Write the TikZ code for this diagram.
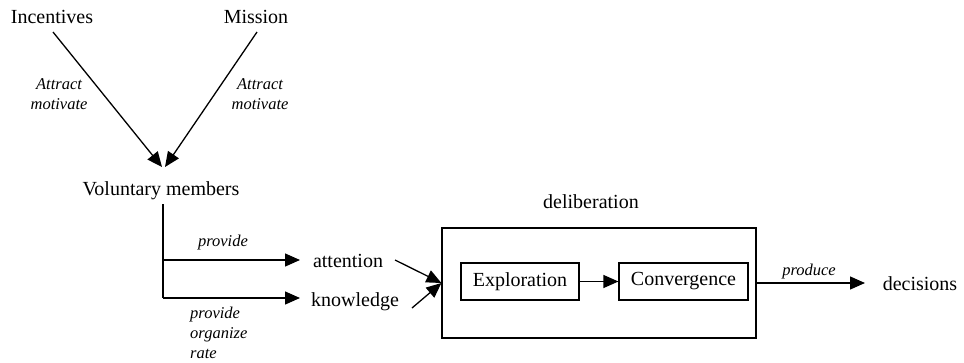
\documentclass[tikz,border=0pt]{standalone}
\usepackage{fontspec}
\setmainfont{Liberation Serif}
\usetikzlibrary{arrows.meta}
\begin{document}
\begin{tikzpicture}[x=1pt,y=-1pt,
  lbl/.style={font=\fontsize{20}{22}\selectfont, inner sep=0pt, anchor=base},
  note/.style={font=\fontsize{16.5}{20}\selectfont\itshape, inner sep=0pt},
  box/.style={draw, line width=1.2pt},
  conn/.style={line width=1.3pt, -{Triangle[length=15pt,width=13pt]}},
  wire/.style={line width=1.3pt}]
\useasboundingbox (0,0) rectangle (964,362);

% sources
\node[lbl] (inc) at (52,23) {Incentives};
\node[lbl] (mis) at (256,23) {Mission};
\node[lbl] (vol) at (161,195) {Voluntary members};

% V-shaped arrows into the members
\coordinate (incS) at (53,32);
\coordinate (misS) at (257,32);
\coordinate (volL) at (162,167);
\coordinate (volR) at (165,167);
\draw[conn] (incS) -- (volL);
\draw[conn] (misS) -- (volR);
\node[note, align=center] (am1) at (59,94) {Attract\\motivate};
\node[note, align=center] (am2) at (260,94) {Attract\\motivate};

% contributions
\node[lbl] (att) at (348,267) {attention};
\node[lbl] (kno) at (355,306) {knowledge};
\coordinate (trunkTop) at (163,204);
\coordinate (brA) at (163,260);
\coordinate (brK) at (163,298);
\coordinate (tipA) at (300,260);
\coordinate (tipK) at (300,298);
\draw[wire] (trunkTop) -- (brK);
\draw[conn] (brA) -- (tipA);
\draw[conn] (brK) -- (tipK);
\node[note] (prov) at (223,243) {provide};
\node[note, align=left, anchor=west] (por) at (190,333) {provide\\organize\\rate};

% deliberation process
\node[box, minimum width=314pt, minimum height=110pt] (delib) at (599,283) {};
\node[lbl] (dlab) at (591,208) {deliberation};
\node[box, lbl, anchor=center, minimum width=118pt, minimum height=37pt] (exp) at (520,281.5) {Exploration};
\node[box, lbl, anchor=center, minimum width=129pt, minimum height=37pt] (con) at (683.5,281.5) {Convergence};
\draw[conn] (exp.east) -- (con.west);

\coordinate (attS) at (395,260);
\coordinate (knoS) at (412,308);
\draw[conn] (attS) -- (delib.west);
\draw[conn] (knoS) -- (delib.west);

% output
\node[lbl] (dec) at (920,290) {decisions};
\coordinate (decTip) at (865,283);
\draw[conn] (delib.east) -- (decTip);
\node[note] (prod) at (809,272) {produce};
\end{tikzpicture}
\end{document}
